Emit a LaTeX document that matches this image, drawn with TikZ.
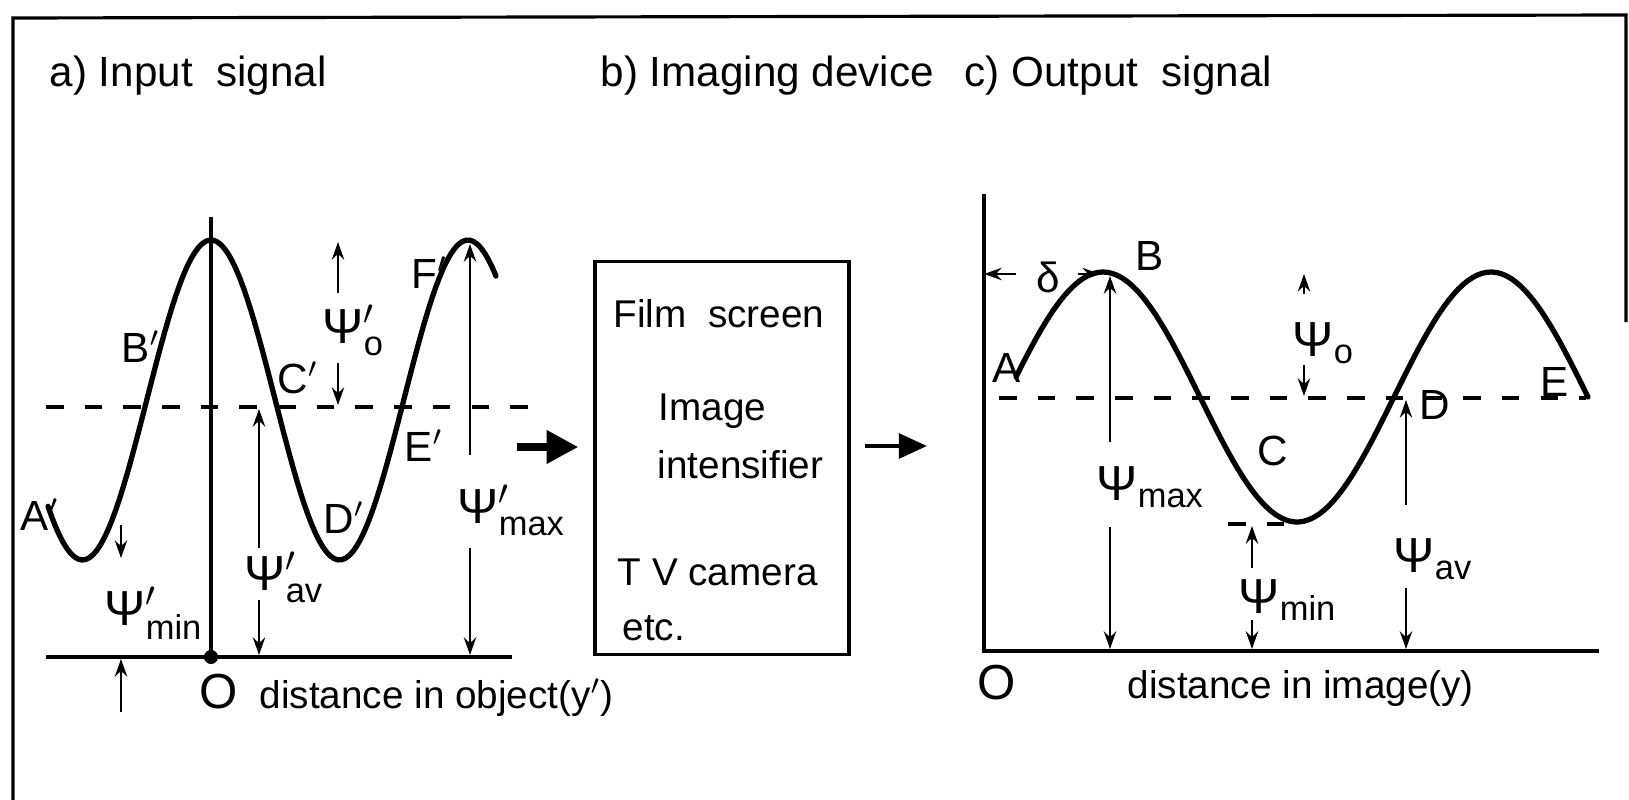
\documentclass[tikz,border=0pt]{standalone}
\usepackage{amsmath,amssymb}
\usepackage{fontspec}
\setmainfont{Liberation Sans}
\usetikzlibrary{arrows.meta}

\begin{document}
\begin{tikzpicture}[x=0.01cm, y=-0.01cm,
  wave/.style={line width=1.5pt, line cap=round},
  axisline/.style={line width=1.1pt},
  meanline/.style={line width=0.9pt, dash pattern=on 5pt off 6pt},
  dimline/.style={line width=0.6pt, -{Stealth[length=5pt,width=3.5pt]}},
  ptlabel/.style={inner sep=0pt, anchor=base west, font=\fontsize{12}{12}\selectfont},
  psilabel/.style={inner sep=0pt, anchor=base west, font=\fontsize{14}{14}\selectfont},
  boxtext/.style={inner sep=0pt, anchor=base west, font=\fontsize{11}{11}\selectfont},
  titletext/.style={inner sep=0pt, anchor=base west, font=\fontsize{12}{12}\selectfont}]
\useasboundingbox (0,0) rectangle (1629,800);
\draw[line width=0.9pt] (13,800) -- (13,18) -- (1626,15) -- (1626,322);

\node[titletext] (ttlin) at (49,87) {a) Input\ \ signal};
\node[titletext] (ttldev) at (600,87) {b) Imaging device};
\node[titletext] (ttlout) at (964,87) {c) Output\ \ signal};

% a) input signal
\draw[axisline] (46,657) -- (512,657);
\draw[line width=0.9pt] (211,217) -- (211,657);
\fill (211,657) circle (2pt);
\draw[meanline] (46,407) -- (546,407);
\draw[wave] plot[domain=48:496, samples=120] (\x, {400-160*cos(1.4008*(\x-211))});

\node[ptlabel] (inA) at (20,530) {A$'$};
\node[ptlabel] (inB) at (121,362) {B$'$};
\node[ptlabel] (inC) at (277,393) {C$'$};
\node[ptlabel] (inD) at (323,533) {D$'$};
\node[ptlabel] (inE) at (404,461) {E$'$};
\node[ptlabel] (inF) at (411,288) {F$'$};
\node[psilabel] (inpsio) at (322,343) {Ψ$'_{\text{o}}$};
\node[psilabel] (inpsimax) at (457,523) {Ψ$'_{\text{max}}$};
\node[psilabel] (inpsiav) at (244,590) {Ψ$'_{\text{av}}$};
\node[psilabel] (inpsimin) at (104,625) {Ψ$'_{\text{min}}$};
\node[psilabel] (inO) at (199,708) {O};
\node[boxtext] (inaxis) at (259,708) {distance in object(y$'$)};

\coordinate (iopeak) at (338,242);
\coordinate (iomean) at (338,405);
\coordinate (iomaxpk) at (470,244);
\coordinate (iomaxbs) at (470,655);
\coordinate (ioavmn) at (259,409);
\coordinate (ioavbs) at (259,655);
\coordinate (iominlo) at (121,558);
\coordinate (iominbs) at (121,659);
\draw[dimline] (iopeak |- 0,293) -- (iopeak);
\draw[dimline] (iomean |- 0,363) -- (iomean);
\draw[dimline] (iomaxpk |- 0,455) -- (iomaxpk);
\draw[dimline] (iomaxbs |- 0,548) -- (iomaxbs);
\draw[dimline] (ioavmn |- 0,548) -- (ioavmn);
\draw[dimline] (ioavbs |- 0,600) -- (ioavbs);
\draw[dimline] (iominlo |- 0,525) -- (iominlo);
\draw[dimline] (iominbs |- 0,712) -- (iominbs);

% b) imaging device
\node[draw, line width=0.9pt, minimum width=2.54cm, minimum height=3.93cm, inner sep=0pt] (dev) at (722,458) {};
\node[boxtext] (film) at (613,327) {Film\ \ screen};
\node[boxtext] (intens1) at (658,420) {Image};
\node[boxtext] (intens2) at (657,478) {intensifier};
\node[boxtext] (tvcam) at (617,585) {T V camera};
\node[boxtext] (etc) at (622,640) {etc.};

\coordinate (arrin) at (517,447);
\coordinate (arrout) at (927,446);
\draw[line width=2.2pt, -{Triangle[length=9pt,width=9pt]}, shorten >=0.15cm] (arrin) -- (dev.west |- arrin);
\draw[line width=1.2pt, -{Triangle[length=8pt,width=7pt]}, shorten <=0.14cm] (dev.east |- arrout) -- (arrout);

% c) output signal
\draw[axisline] (984,194) -- (984,651) -- (1599,651);
\draw[meanline] (999,398) -- (1586,398);
\draw[meanline] (1228,524) -- (1292,524);
\draw[wave] plot[domain=1016:1588, samples=120] (\x, {397-125*cos(0.92784*(\x-1103))});

\node[ptlabel] (outA) at (992,382) {A};
\node[ptlabel] (outB) at (1135,270) {B};
\node[ptlabel] (outC) at (1257,465) {C};
\node[ptlabel] (outD) at (1419,419) {D};
\node[ptlabel] (outE) at (1540,396) {E};
\node[ptlabel] (delta) at (1036,292) {δ};
\node[psilabel] (outpsio) at (1292,356) {Ψ$_{\text{o}}$};
\node[psilabel] (outpsimax) at (1096,500) {Ψ$_{\text{max}}$};
\node[psilabel] (outpsimin) at (1238,613) {Ψ$_{\text{min}}$};
\node[psilabel] (outpsiav) at (1393,572) {Ψ$_{\text{av}}$};
\node[psilabel] (outO) at (977,699) {O};
\node[boxtext] (outaxis) at (1127,698) {distance in image(y)};

\coordinate (dlaxis) at (984,274);
\coordinate (dlpeak) at (1100,274);
\coordinate (oopeak) at (1304,274);
\coordinate (oomean) at (1304,396);
\coordinate (oomaxpk) at (1110,276);
\coordinate (oomaxbs) at (1110,649);
\coordinate (oominlo) at (1252,526);
\coordinate (oominbs) at (1252,649);
\coordinate (ooavmn) at (1406,400);
\coordinate (ooavbs) at (1406,649);
\draw[dimline] (delta.west |- dlaxis) ++(-0.2cm,0) -- (dlaxis);
\draw[dimline] (delta.east |- dlpeak) ++(0.17cm,0) -- (dlpeak);
\draw[dimline] (oopeak |- 0,294) -- (oopeak);
\draw[dimline] (oomean |- 0,365) -- (oomean);
\draw[dimline] (oomaxpk |- 0,442) -- (oomaxpk);
\draw[dimline] (oomaxbs |- 0,527) -- (oomaxbs);
\draw[dimline] (oominlo |- 0,568) -- (oominlo);
\draw[dimline] (oominbs |- 0,620) -- (oominbs);
\draw[dimline] (ooavmn |- 0,505) -- (ooavmn);
\draw[dimline] (ooavbs |- 0,588) -- (ooavbs);
\end{tikzpicture}
\end{document}
